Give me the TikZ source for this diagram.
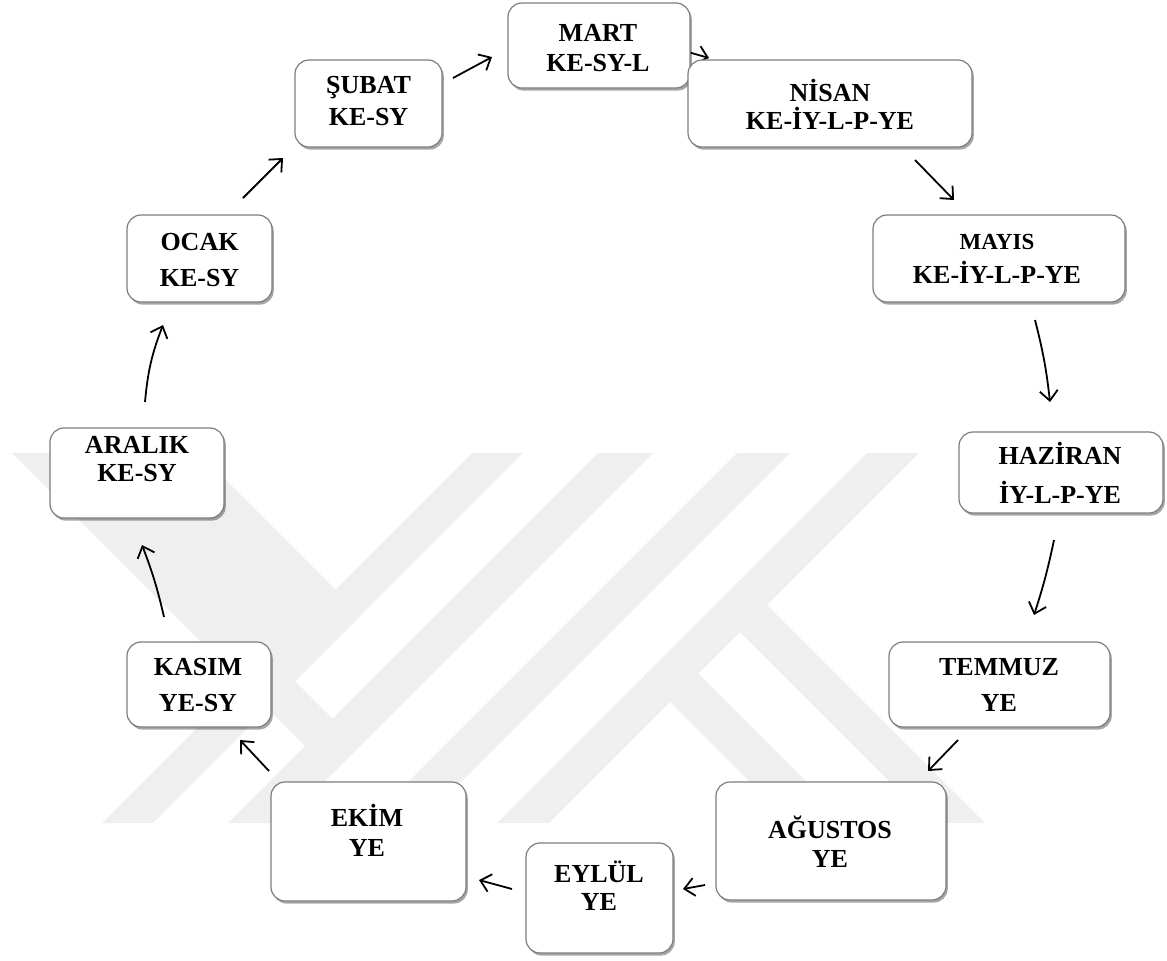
\documentclass[tikz,border=0pt]{standalone}
\usepackage{fontspec}
\setmainfont{Liberation Serif}
\usetikzlibrary{arrows.meta,shadows}
\definecolor{wm}{RGB}{239,239,239}
\definecolor{boxline}{RGB}{125,125,125}
\pgfdeclarelayer{wmlayer}
\pgfdeclarelayer{arrlayer}
\pgfsetlayers{wmlayer,arrlayer,main}
\begin{document}
\begin{tikzpicture}[x=0.5pt,y=-0.5pt,
  box/.style={draw=boxline, fill=white, line width=0.6pt, rounded corners=7pt, inner sep=0pt, outer sep=0pt,
    drop shadow={shadow xshift=0.9pt, shadow yshift=-1.3pt, opacity=0.35, fill=black}},
  txt/.style={font=\bfseries\fontsize{13}{#1}\selectfont, align=center, inner sep=0pt},
  arr/.style={draw=black, line width=0.9pt, -{Straight Barb[length=5pt,width=9pt]}}]
\useasboundingbox (0,0) rectangle (1167,960);

% watermark
\begin{pgfonlayer}{wmlayer}
\fill[wm] (472,453) -- (523,453) -- (153,823) -- (102,823) -- cycle;
\fill[wm] (598,453) -- (653,453) -- (283,823) -- (228,823) -- cycle;
\fill[wm] (737,453) -- (790,453) -- (420,823) -- (367,823) -- cycle;
\fill[wm] (867,453) -- (919,453) -- (549,823) -- (497,823) -- cycle;
\fill[wm] (12,453) -- (199,453) -- (361,615) -- (295,681) -- (360,746) -- (332.5,773.5) -- cycle;
\fill[wm] (644,676) -- (672.5,647.5) -- (848,823) -- (791,823) -- cycle;
\fill[wm] (714,606) -- (741,579) -- (985,823) -- (931,823) -- cycle;
\end{pgfonlayer}

% boxes
\node[box, minimum width=72.5pt, minimum height=43.5pt] (ocak) at (199.5,258.5) {};
\node[box, minimum width=73.5pt, minimum height=43.5pt] (subat) at (368.5,103.5) {};
\node[box, minimum width=91pt, minimum height=42.5pt] (mart) at (599,45.5) {};
\node[box, minimum width=142pt, minimum height=43.5pt] (nisan) at (830,103.5) {};
\node[box, minimum width=126pt, minimum height=43.5pt] (mayis) at (999,258.5) {};
\node[box, minimum width=102pt, minimum height=40.5pt] (haziran) at (1061,472.5) {};
\node[box, minimum width=110.5pt, minimum height=42.5pt] (temmuz) at (999.5,684.5) {};
\node[box, minimum width=115pt, minimum height=59pt] (agustos) at (831,841) {};
\node[box, minimum width=73.5pt, minimum height=55pt] (eylul) at (599.5,898) {};
\node[box, minimum width=97.5pt, minimum height=59.5pt] (ekim) at (368.5,841.5) {};
\node[box, minimum width=72pt, minimum height=42.5pt] (kasim) at (199,684.5) {};
\node[box, minimum width=87pt, minimum height=45pt] (aralik) at (137,473) {};

% texts
\node[txt=18] (ocakT) at (199.5,260) {OCAK\\KE-SY};
\node[txt=16] (subatT) at (368.5,101) {ŞUBAT\\KE-SY};
\node[txt=15] (martT) at (598,48) {MART\\KE-SY-L};
\node[txt=14] (nisanT) at (830,104) {NİSAN\\KE-İY-L-P-YE};
\node[txt=17] (mayisT) at (997,259) {{\fontsize{11.5}{17}\selectfont MAYIS}\\KE-İY-L-P-YE};
\node[txt=19.5] (haziranT) at (1060,472.5) {HAZİRAN\\İY-L-P-YE};
\node[txt=18] (temmuzT) at (999,685) {TEMMUZ\\YE};
\node[txt=14.5] (agustosT) at (830,841.5) {AĞUSTOS\\YE};
\node[txt=14] (eylulT) at (599,886) {EYLÜL\\YE};
\node[txt=15] (ekimT) at (367,830) {EKİM\\YE};
\node[txt=18] (kasimT) at (198,685) {KASIM\\YE-SY};
\node[txt=14] (aralikT) at (137,459) {ARALIK\\KE-SY};

% arrows
\begin{pgfonlayer}{arrlayer}
\draw[arr] ([shift={(8,-26)}]aralik.north) to[bend left=8] ([shift={(-36.5,23)}]ocak.south);
\draw[arr] ([shift={(43.5,-17)}]ocak.north) -- ([shift={(-12,11)}]subat.south west);
\draw[arr] ([shift={(11,-25.5)}]subat.east) -- ([shift={(-16,11.5)}]mart.west);
\draw[arr] ([shift={(-2,6.5)}]mart.east) -- ([shift={(21,-2)}]nisan.north west);
\draw[arr] ([shift={(85,13)}]nisan.south) -- ([shift={(81,-15)}]mayis.north west);
\draw[arr] ([shift={(36,18)}]mayis.south) to[bend left=4] ([shift={(-11,-30)}]haziran.north);
\draw[arr] ([shift={(-7,27)}]haziran.south) to[bend left=3] ([shift={(34.5,-27)}]temmuz.north);
\draw[arr] ([shift={(-41.5,13)}]temmuz.south) -- ([shift={(-18,-11)}]agustos.north east);
\draw[arr] ([shift={(-11,44)}]agustos.west) -- ([shift={(10,-9)}]eylul.east);
\draw[arr] ([shift={(-14,-9)}]eylul.west) -- ([shift={(13,38.5)}]ekim.east);
\draw[arr] ([shift={(-2,-11)}]ekim.north west) -- ([shift={(-31,13)}]kasim.south east);
\draw[arr] ([shift={(-35,-25)}]kasim.north) to[bend right=4] ([shift={(5,27)}]aralik.south);
\end{pgfonlayer}
\end{tikzpicture}
\end{document}
